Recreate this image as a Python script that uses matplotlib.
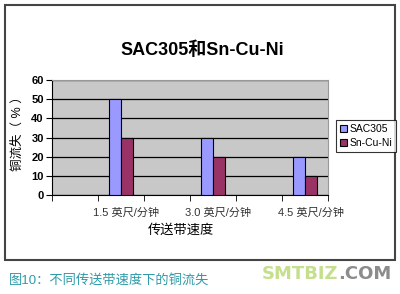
import numpy as np
import matplotlib
matplotlib.use('Agg')
import matplotlib.pyplot as plt
from matplotlib.patches import Rectangle

plt.rcParams['font.family'] = ['Liberation Sans', 'Noto Sans CJK SC', 'DejaVu Sans']

# data
categories = ['', '1.5 英尺/分钟', '', '3.0 英尺/分钟', '', '4.5 英尺/分钟']
sac305 = [0, 50, 0, 30, 0, 20]
sncuni = [0, 30, 0, 20, 0, 10]
series_names = ['SAC305', 'Sn-Cu-Ni']

W, H = 400, 294
fig = plt.figure(figsize=(4, 2.94), dpi=100)

# outer frame
fig.patches.append(Rectangle((5 / W, 1 - 260 / H), 390 / W, 255 / H, transform=fig.transFigure,
                             fill=False, edgecolor='#444444', lw=1.5))

ax = fig.add_axes([52 / W, 1 - 195 / H, 276 / W, 115 / H])
ax.set_facecolor('#c8c8c8')

x = np.arange(len(categories))
w = 0.27
keep = [i for i in x if sac305[i] > 0]
ax.bar(x[keep] - w / 2, [sac305[i] for i in keep], w, color='#9999ff', edgecolor='black', lw=0.8,
       label=series_names[0], zorder=3)
ax.bar(x[keep] + w / 2, [sncuni[i] for i in keep], w, color='#993366', edgecolor='black', lw=0.8,
       label=series_names[1], zorder=3)

ax.set_xlim(-0.5, len(categories) - 0.5)
ax.set_ylim(0, 60)
ax.set_yticks(range(0, 61, 10))
ax.yaxis.grid(True, color='black', lw=0.9, zorder=1)
ax.set_axisbelow(True)

ax.set_xticks(x[keep] + 0.12)
ax.set_xticklabels([categories[i] for i in keep])
ax.set_xticks(np.arange(-0.5, len(categories), 1), minor=True)
ax.tick_params(axis='x', which='major', length=0, pad=9, labelsize=8, labelcolor='#333333')
ax.tick_params(axis='x', which='minor', length=4, direction='out', color='black')
ax.tick_params(axis='y', length=4, direction='out', pad=2, labelsize=8)
for lbl in ax.get_yticklabels():
    lbl.set_fontweight('bold')

for s in ['top', 'right']:
    ax.spines[s].set_color('#999999')
for s in ['left', 'bottom']:
    ax.spines[s].set_color('black')

fig.text(202 / W, 1 - 50 / H, 'SAC305和Sn-Cu-Ni', ha='center', va='center',
         fontsize=13, fontweight='bold')
fig.text(18 / W, 1 - 131 / H, '铜流失（ % ）', rotation=90, ha='center', va='center', fontsize=9)
fig.text(181 / W, 1 - 230 / H, '传送带速度', ha='center', va='center', fontsize=9.5)

leg = fig.legend(loc='center left', bbox_to_anchor=(336 / W, 1 - 136 / H), fontsize=7.5,
                 frameon=True, fancybox=False, edgecolor='black', handlelength=0.7,
                 handleheight=0.7, handletextpad=0.3, borderpad=0.35, labelspacing=0.4,
                 borderaxespad=0)
leg.get_frame().set_linewidth(0.8)

fig.text(9 / W, 1 - 280 / H, '图10：不同传送带速度下的铜流失', ha='left', va='center',
         fontsize=9.5, color='#2e9aa8')
t1 = fig.text(262 / W, 1 - 274 / H, 'SMTBIZ', ha='left', va='center', fontsize=13,
              fontweight='bold', color='#c5df8c', family='DejaVu Sans')
fig.canvas.draw()
bb = t1.get_window_extent()
fig.text(bb.x1 / W, 1 - 274 / H, '.COM', ha='left', va='center', fontsize=13,
         fontweight='bold', color='#8c8c8c', family='DejaVu Sans')

fig.savefig('out.png', dpi=100, facecolor='white')
